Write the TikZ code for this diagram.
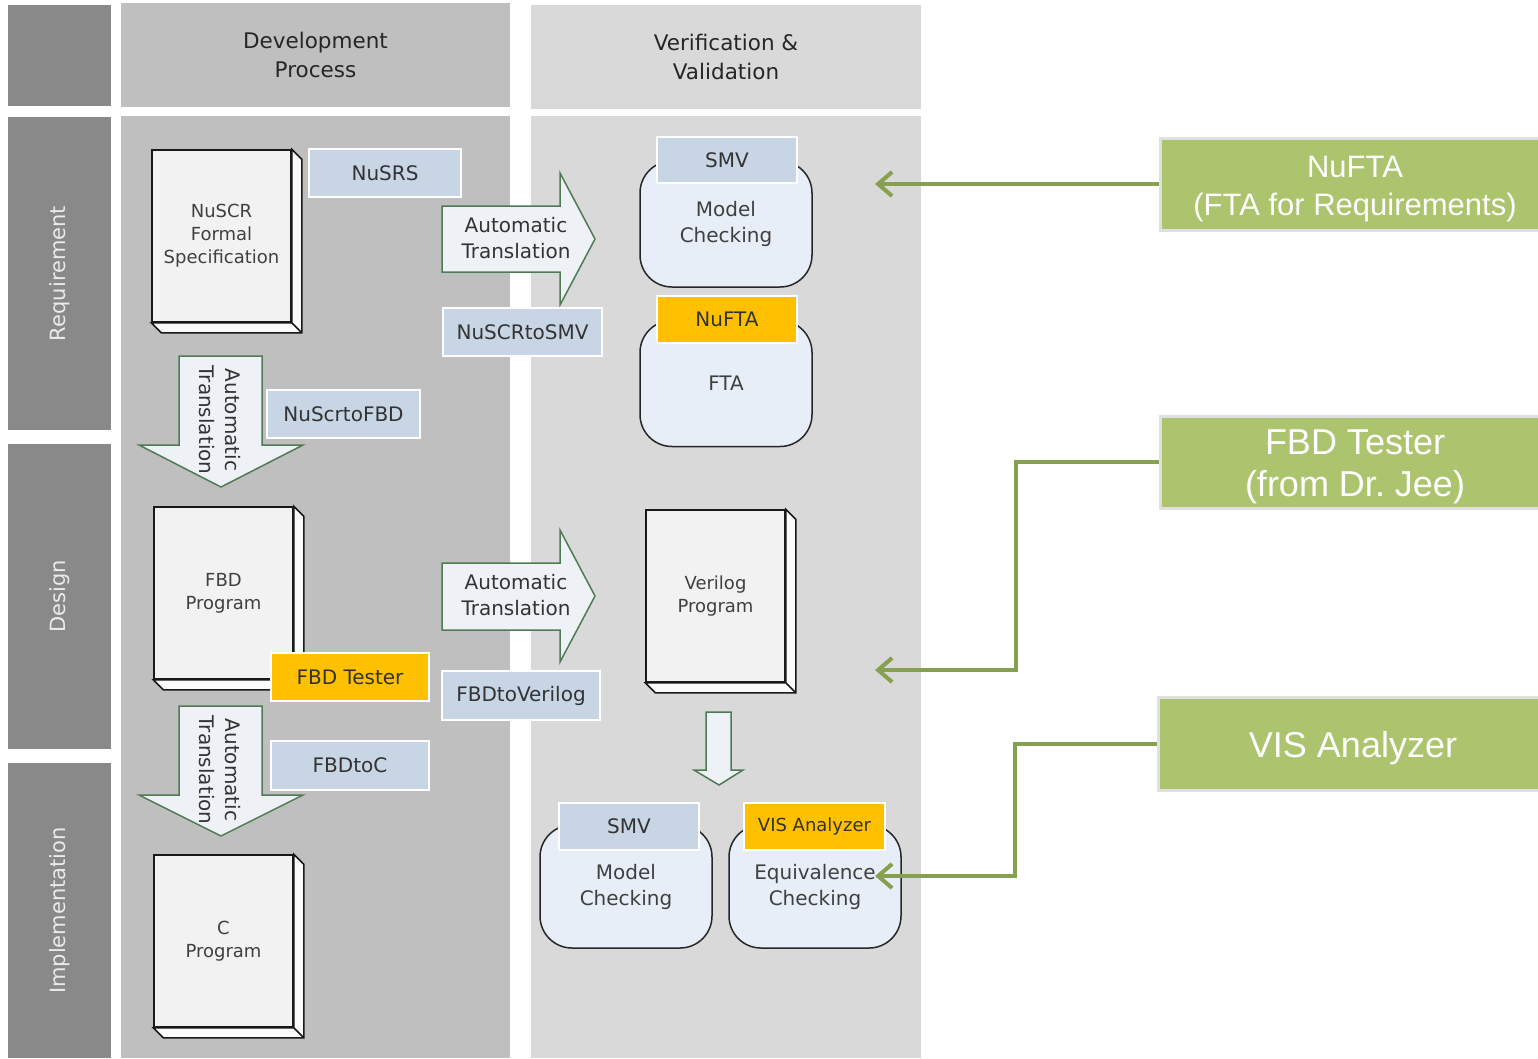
\documentclass[tikz,border=0pt]{standalone}
\usepackage{fontspec}
\setmainfont{DejaVu Sans}
\newfontfamily\greenfont{Liberation Sans}
\usetikzlibrary{arrows.meta}
\definecolor{sidegray}{HTML}{898989}
\definecolor{devgray}{HTML}{BFBFBF}
\definecolor{vvgray}{HTML}{D9D9D9}
\definecolor{docfill}{HTML}{F2F2F2}
\definecolor{tagblue}{HTML}{C7D5E5}
\definecolor{tagyellow}{HTML}{FFC000}
\definecolor{checkfill}{HTML}{E8EEF8}
\definecolor{arrowfill}{HTML}{EEF2F7}
\definecolor{arrowline}{HTML}{4F7A55}
\definecolor{toolgreen}{HTML}{ACC46E}
\definecolor{linkgreen}{HTML}{85A04F}

\begin{document}
\begin{tikzpicture}[x=1pt,y=-1pt,
  side/.style={fill=sidegray,text=black!8,minimum height=103,font=\fontsize{21}{26}\selectfont},
  hdr/.style={minimum height=104,align=center,text=black!85,font=\fontsize{21.5}{29}\selectfont},
  doc/.style={draw=black!90,line width=1.5,fill=docfill,minimum width=139,minimum height=172,align=center,text=black!75,font=\fontsize{18}{23}\selectfont},
  docside/.style={draw=black!90,line width=1.5,fill=white!97!gray},
  tag/.style={fill=tagblue,draw=white,line width=1.5,minimum height=48,text=black!80,font=\fontsize{20}{24}\selectfont},
  hot/.style={tag,fill=tagyellow},
  check/.style={draw=black!85,line width=1.5,fill=checkfill,rounded corners=32,minimum width=172,minimum height=126,align=center,text=black!75,font=\fontsize{20}{26}\selectfont},
  bigarrow/.style={draw=arrowline,line width=1.5,fill=arrowfill},
  arrowtxt/.style={align=center,text=black!80,font=\fontsize{20}{26}\selectfont},
  tool/.style={fill=toolgreen,draw=black!12,line width=3,minimum width=390,minimum height=92},
  tooltxt/.style={align=center,text=white,yshift=-5pt,font=\greenfont\fontsize{36}{42}\selectfont},
  link/.style={draw=linkgreen,line width=4,-{Straight Barb[length=14pt,width=24pt]}}]
\useasboundingbox (0,0) rectangle (1538,1058);

% lanes and columns
\fill[sidegray] (8,5) rectangle (111,106);
\fill[devgray] (121,116) rectangle (510,1058);
\fill[vvgray] (531,116) rectangle (921,1058);
\node[hdr,fill=devgray,minimum width=389] (dev) at (315.5,55) {Development\\Process};
\node[hdr,fill=vvgray,minimum width=390] (vv) at (726,56.5) {Verification \&\\Validation};
\node[side,rotate=90,minimum width=313] (req) at (59.5,273.5) {Requirement};
\node[side,rotate=90,minimum width=305] (des) at (59.5,596.5) {Design};
\node[side,rotate=90,minimum width=295] (imp) at (59.5,910.5) {Implementation};

% documents
\node[doc] (spec) at (221.5,236) {NuSCR\\Formal\\Specification};
\node[doc] (fbd) at (223.5,593) {FBD\\Program};
\node[doc] (cprog) at (223.5,941) {C\\Program};
\node[doc] (vlog) at (715.5,596) {Verilog\\Program};
\draw[docside] (spec.north east) -- ++(10,10) -- ([shift={(10,10)}]spec.south east) -- ([shift={(10,10)}]spec.south west) -- (spec.south west) -- (spec.south east) -- cycle (spec.south east) -- ++(10,10);
\draw[docside] (fbd.north east) -- ++(10,10) -- ([shift={(10,10)}]fbd.south east) -- ([shift={(10,10)}]fbd.south west) -- (fbd.south west) -- (fbd.south east) -- cycle (fbd.south east) -- ++(10,10);
\draw[docside] (cprog.north east) -- ++(10,10) -- ([shift={(10,10)}]cprog.south east) -- ([shift={(10,10)}]cprog.south west) -- (cprog.south west) -- (cprog.south east) -- cycle (cprog.south east) -- ++(10,10);
\draw[docside] (vlog.north east) -- ++(10,10) -- ([shift={(10,10)}]vlog.south east) -- ([shift={(10,10)}]vlog.south west) -- (vlog.south west) -- (vlog.south east) -- cycle (vlog.south east) -- ++(10,10);

% block arrows
\draw[bigarrow] (442,206) -- (560,206) -- (560,173) -- (595,239) -- (560,305) -- (560,272) -- (442,272) -- cycle;
\draw[bigarrow] (442,563) -- (560,563) -- (560,530) -- (595,596) -- (560,662) -- (560,630) -- (442,630) -- cycle;
\draw[bigarrow] (179,356) -- (262,356) -- (262,445) -- (303,445) -- (221,487) -- (139,445) -- (179,445) -- cycle;
\draw[bigarrow] (179,706) -- (262,706) -- (262,795) -- (303,795) -- (221,836) -- (139,795) -- (179,795) -- cycle;
\draw[bigarrow] (706,712) -- (731,712) -- (731,770) -- (743,770) -- (719,785) -- (694,770) -- (706,770) -- cycle;
\node[arrowtxt] (tr1) at (516,238) {Automatic\\Translation};
\node[arrowtxt] (tr2) at (516,595) {Automatic\\Translation};
\node[arrowtxt,rotate=-90] (tr3) at (220,420) {Automatic\\Translation};
\node[arrowtxt,rotate=-90] (tr4) at (220,770) {Automatic\\Translation};

% checkers
\node[check] (mc1) at (726,224) {Model\\Checking};
\node[check] (fta) at (726,383.5) {FTA};
\node[check,minimum height=123] (mc2) at (626,886.5) {Model\\Checking};
\node[check,minimum height=123] (eqc) at (815,886.5) {Equivalence\\Checking};

% tool tags
\node[tag,minimum width=152] (nusrs) at (385,173) {NuSRS};
\node[tag,minimum width=159] (tosmv) at (522.5,332) {NuSCRtoSMV};
\node[tag,minimum width=153] (tofbd) at (343.5,414) {NuScrtoFBD};
\node[tag,minimum width=158,minimum height=49] (tover) at (521,695.5) {FBDtoVerilog};
\node[tag,minimum width=158,minimum height=49] (toc) at (350,765.5) {FBDtoC};
\node[tag,minimum width=140,minimum height=46] (smv1) at (727,160) {SMV};
\node[tag,minimum width=140,minimum height=47] (smv2) at (629,826.5) {SMV};
\node[hot,minimum width=158] (fbdt) at (350,677) {FBD Tester};
\node[hot,minimum width=140,minimum height=47] (nufta) at (727,319.5) {NuFTA};
\node[hot,minimum width=141,minimum height=47,font=\fontsize{18}{22}\selectfont] (visa) at (814.5,826.5) {VIS Analyzer};

% external tools
\node[tool,label={[tooltxt,name=gnuftat,font=\greenfont\fontsize{31}{38}\selectfont]center:{NuFTA\\(FTA for Requirements)}}] (gnufta) at (1355,184) {};
\node[tool,label={[tooltxt,name=gfbdtt]center:{FBD Tester\\(from Dr.\ Jee)}}] (gfbdt) at (1355,462) {};
\node[tool,minimum height=93,label={[tooltxt,name=gvist]center:VIS Analyzer}] (gvis) at (1353,743.5) {};
\coordinate (c1) at (875,184);
\coordinate (c2) at (875,670);
\coordinate (c3) at (875,876);
\draw[link] (gnufta.west) -- (c1);
\draw[link] (gfbdt.west) -- ++(-143,0) |- (c2);
\draw[link] (gvis.west) -- ++(-142,0) |- (c3);
\end{tikzpicture}
\end{document}
